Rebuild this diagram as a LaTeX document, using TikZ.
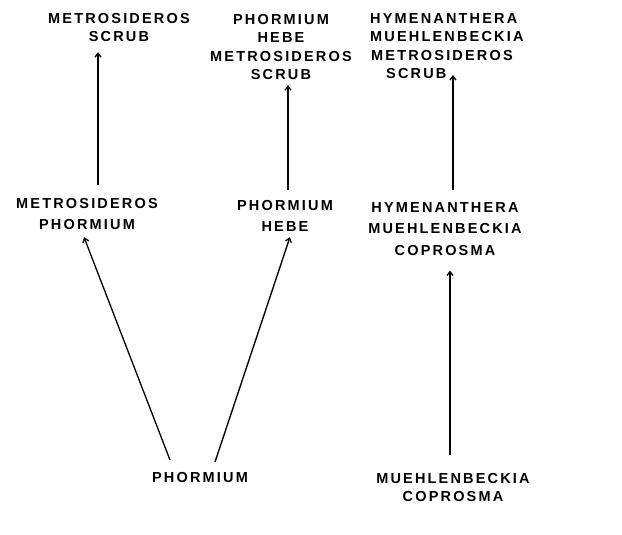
\documentclass[tikz,border=0pt]{standalone}
\usepackage{fontspec}
\usepackage{tikz}
\usetikzlibrary{arrows.meta}
\newfontfamily\plantfont[LetterSpace=15]{Liberation Sans}

\tikzset{
  taxon/.style={inner sep=0pt,align=center,anchor=north,
    font=\plantfont\bfseries\fontsize{14.5}{18.5}\selectfont},
  midrow/.style={font=\plantfont\bfseries\fontsize{14.5}{21.5}\selectfont},
  succ/.style={-{Straight Barb[length=4pt,width=6pt]},line width=1.3pt}
}

\begin{document}
\begin{tikzpicture}[x=1pt,y=-1pt]
\useasboundingbox (0,0) rectangle (622,535);

% Top row
\node[taxon] (top1) at (119,13) {METROSIDEROS\\SCRUB};
\node[taxon] (top2) at (281,14) {PHORMIUM\\HEBE\\METROSIDEROS\\SCRUB};
\node[taxon,anchor=north west,align=left] (top3) at (370,13)
    {HYMENANTHERA\\MUEHLENBECKIA\\\hspace*{1pt}METROSIDEROS\\\hspace*{16pt}SCRUB};

% Middle row
\node[taxon,midrow] (mid1) at (87,198) {METROSIDEROS\\PHORMIUM};
\node[taxon,midrow] (mid2) at (285,200) {PHORMIUM\\HEBE};
\node[taxon,midrow] (mid3) at (445,202) {HYMENANTHERA\\MUEHLENBECKIA\\COPROSMA};

% Bottom row
\node[taxon] (bot1) at (200,472) {PHORMIUM};
\node[taxon] (bot2) at (453,473) {MUEHLENBECKIA\\COPROSMA};

% Arrows
\coordinate (m3top) at ([xshift=8pt,yshift=12pt]mid3.north);
\coordinate (t3tip) at ([yshift=4pt]top3.south);

\draw[succ] ([xshift=11pt,yshift=13pt]mid1.north) -- ([xshift=-21pt,yshift=-10pt]top1.south);
\draw[succ] ([xshift=3pt,yshift=10pt]mid2.north) -- ([xshift=7pt,yshift=-5pt]top2.south);
\draw[succ] (m3top) -- (m3top |- t3tip);

\draw[succ] ([xshift=-30pt,yshift=12pt]bot1.north) -- ([xshift=-3pt,yshift=-7pt]mid1.south);
\draw[succ] ([xshift=15pt,yshift=10pt]bot1.north) -- ([xshift=5pt,yshift=-5pt]mid2.south);
\draw[succ] ([xshift=-3pt,yshift=18pt]bot2.north) -- ([xshift=5pt,yshift=-15pt]mid3.south);

\end{tikzpicture}
\end{document}
